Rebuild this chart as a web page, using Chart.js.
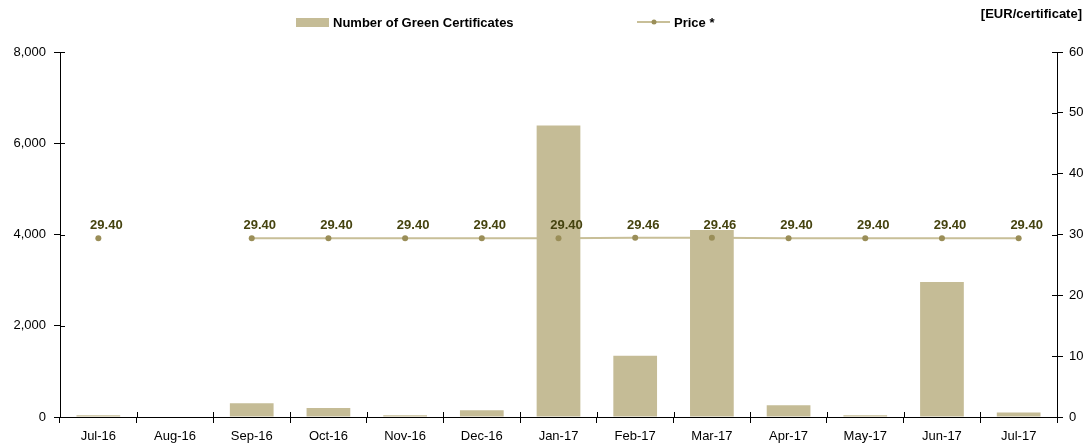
<!DOCTYPE html>
<html>
<head>
<meta charset="utf-8">
<script src="https://cdn.jsdelivr.net/npm/chart.js@4/dist/chart.umd.min.js"></script>
<style>
  body { margin: 0; background: #fff; }
  #wrap { width: 1090px; height: 445px; }
</style>
</head>
<body>
<div id="wrap"><canvas id="chart" width="1090" height="445"></canvas></div>
<script>
let months = ['Jul-16','Aug-16','Sep-16','Oct-16','Nov-16','Dec-16','Jan-17','Feb-17','Mar-17','Apr-17','May-17','Jun-17','Jul-17'];
let certificates = [40, null, 300, 200, 40, 150, 6390, 1340, 4100, 260, 40, 2960, 100];
let prices = [29.40, null, 29.40, 29.40, 29.40, 29.40, 29.40, 29.46, 29.46, 29.40, 29.40, 29.40, 29.40];
let leftTicks = [0, 2000, 4000, 6000, 8000];
let rightTicks = [0, 10, 20, 30, 40, 50, 60];

const FONT = '"Liberation Sans", Arial, sans-serif';

// labels above the price points, inner tick halves, legend drawn by hand
let extrasPlugin = {
    id: 'extras',
    afterDatasetsDraw(chart){
        let ctx = chart.ctx;
        let meta = chart.getDatasetMeta(2);
        ctx.save();
        ctx.font = 'bold 13px ' + FONT;
        ctx.fillStyle = '#45430f';
        ctx.textAlign = 'center';
        ctx.textBaseline = 'bottom';
        meta.data.forEach((pt, i) => {
            if (prices[i] == null) return;
            ctx.fillText(prices[i].toFixed(2), pt.x + 8, pt.y - 6);
        });
        ctx.restore();
    },
    afterDraw(chart){
        let ctx = chart.ctx;
        let area = chart.chartArea;
        ctx.save();
        // tick marks crossing the axes
        ctx.strokeStyle = '#000';
        ctx.lineWidth = 1;
        ctx.beginPath();
        let y = chart.scales.y, y1 = chart.scales.y1, x = chart.scales.x;
        leftTicks.forEach(v => {
            let p = Math.round(y.getPixelForValue(v)) + 0.5;
            ctx.moveTo(area.left, p); ctx.lineTo(area.left + 5, p);
        });
        rightTicks.forEach(v => {
            let p = Math.round(y1.getPixelForValue(v)) + 0.5;
            ctx.moveTo(area.right, p); ctx.lineTo(area.right - 5, p);
        });
        for (let i = 1; i < months.length; i++) {
            let p = Math.round((x.getPixelForValue(i - 1) + x.getPixelForValue(i)) / 2) + 0.5;
            ctx.moveTo(p, area.bottom); ctx.lineTo(p, area.bottom - 5);
        }
        ctx.stroke();

        ctx.font = 'bold 13px ' + FONT;
        ctx.textBaseline = 'middle';
        ctx.fillStyle = '#c5bc96';
        ctx.fillRect(296, 18, 33, 9);
        ctx.fillStyle = '#000';
        ctx.fillText('Number of Green Certificates', 333, 23);
        ctx.strokeStyle = '#c8bf98';
        ctx.lineWidth = 2;
        ctx.beginPath();
        ctx.moveTo(637, 22);
        ctx.lineTo(670, 22);
        ctx.stroke();
        ctx.fillStyle = '#9a8e58';
        ctx.beginPath();
        ctx.arc(654, 22, 2.5, 0, Math.PI * 2);
        ctx.fill();
        ctx.fillStyle = '#000';
        ctx.fillText('Price *', 674, 23);
        ctx.textAlign = 'right';
        ctx.fillText('[EUR/certificate]', 1082, 14);
        ctx.restore();
    }
};

function generateChart(){
    let context = document.getElementById('chart').getContext('2d');
    return new Chart(context, {
        data: {
            labels: months,
            datasets: [{
                type: 'bar',
                label: 'Number of Green Certificates',
                data: certificates,
                backgroundColor: '#c5bc96',
                yAxisID: 'y',
                categoryPercentage: 1,
                barPercentage: 0.57,
                order: 2
            }, {
                type: 'line',
                label: 'Price *',
                data: prices,
                borderColor: '#c8bf98',
                borderWidth: 2,
                pointRadius: 0,
                spanGaps: false,
                yAxisID: 'y1',
                order: 3
            }, {
                type: 'line',
                label: 'Price * points',
                data: prices,
                showLine: false,
                pointRadius: 3,
                pointBackgroundColor: '#9a8e58',
                pointBorderWidth: 0,
                yAxisID: 'y1',
                order: 1
            }]
        },
        options: {
            responsive: false,
            animation: false,
            layout: { padding: { top: 52, left: 0, right: 0, bottom: 0 } },
            plugins: { legend: { display: false }, tooltip: { enabled: false } },
            scales: {
                x: {
                    offset: true,
                    grid: { offset: true, drawOnChartArea: false, color: '#000', tickLength: 6 },
                    border: { color: '#000' },
                    ticks: { color: '#000', font: { family: FONT, size: 13 }, maxRotation: 0, padding: 6 },
                    afterFit(s){ s.height = 28; }
                },
                y: {
                    position: 'left',
                    min: 0, max: 8000,
                    afterBuildTicks(s){ s.ticks = leftTicks.map(v => ({ value: v })); },
                    grid: { drawOnChartArea: false, color: '#000', tickLength: 6 },
                    border: { color: '#000' },
                    ticks: { color: '#000', font: { family: FONT, size: 13 }, padding: 8,
                             callback: v => v.toLocaleString('en-US') },
                    afterFit(s){ s.width = 60; }
                },
                y1: {
                    position: 'right',
                    min: 0, max: 60,
                    afterBuildTicks(s){ s.ticks = rightTicks.map(v => ({ value: v })); },
                    grid: { drawOnChartArea: false, color: '#000', tickLength: 6 },
                    border: { color: '#000' },
                    ticks: { color: '#000', font: { family: FONT, size: 13 }, padding: 6 },
                    afterFit(s){ s.width = 33; }
                }
            }
        },
        plugins: [extrasPlugin]
    });
}

generateChart();
</script>
</body>
</html>
